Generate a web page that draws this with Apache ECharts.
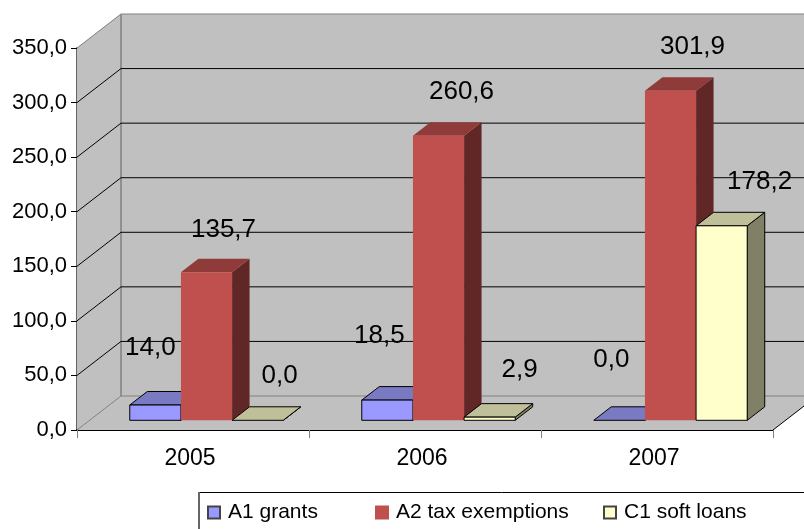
<!DOCTYPE html>
<html>
<head>
<meta charset="utf-8">
<style>html,body{margin:0;padding:0;background:#fff}#chart{width:804px;height:529px}</style>
<script src="https://cdn.jsdelivr.net/npm/echarts@6/dist/echarts.min.js"></script>
</head>
<body>
<div id="chart"></div>
<script>
const years = ['2005', '2006', '2007']
const yTicks = [0, 50, 100, 150, 200, 250, 300, 350]
const grants = [14.0, 18.5, 0.0]
const taxExemptions = [135.7, 260.6, 301.9]
const softLoans = [0.0, 2.9, 178.2]

const FONT = '"Liberation Sans", Arial, sans-serif'
// depth of the walls and of the bars, px
const WALL_DX = 44, WALL_DY = -34
const BAR_DX = 17.5, BAR_DY = -13.5
// bars stand in the middle of the floor
const BASE_DX = 13.5, BASE_DY = -9.7
const BAR_SHARE = 0.2205

// label offset from the top centre of the bar front, per series and year
const labelNudge = [
  [[-5, -57], [-8, -64], [-8, -60]],
  [[17, -42], [23, -44], [22, -44]],
  [[22, -44], [30, -47], [38, -44]]
]

const money = (v) => v.toFixed(1).replace('.', ',')
const poly = (points, fill, stroke) => ({
  type: 'polygon',
  shape: { points },
  style: { fill, stroke: stroke || null, lineWidth: stroke ? 1 : 0 }
})

// walls + floor, drawn once from the y ticks
const renderWalls = (params, api) => {
  const v = api.value(0)
  const band = api.size([1, 0])[0]
  const front = api.coord([0, v])
  const x0 = front[0] - band / 2
  const endX = x0 + band * years.length
  const y = front[1]
  const children = []
  if (params.dataIndex === 0) {
    const top = api.coord([0, yTicks[yTicks.length - 1]])[1]
    children.push(poly([[x0, top], [x0 + WALL_DX, top + WALL_DY], [x0 + WALL_DX, y + WALL_DY], [x0, y]], '#c0c0c0'))
    children.push(poly([[x0 + WALL_DX, top + WALL_DY], [endX + WALL_DX, top + WALL_DY], [endX + WALL_DX, y + WALL_DY], [x0 + WALL_DX, y + WALL_DY]], '#c0c0c0'))
    children.push(poly([[x0, y], [x0 + WALL_DX, y + WALL_DY], [endX + WALL_DX, y + WALL_DY], [endX, y]], '#c0c0c0'))
    children.push({ type: 'line', shape: { x1: x0 + WALL_DX, y1: top + WALL_DY, x2: x0 + WALL_DX, y2: y + WALL_DY }, style: { stroke: '#808080', lineWidth: 1.5 } })
    children.push({ type: 'line', shape: { x1: endX, y1: y, x2: endX + WALL_DX, y2: y + WALL_DY }, style: { stroke: '#000', lineWidth: 1 } })
  }
  const edge = v === 0 || v === yTicks[yTicks.length - 1]
  const color = edge ? '#808080' : '#000'
  children.push({ type: 'line', shape: { x1: x0, y1: y, x2: x0 + WALL_DX, y2: y + WALL_DY }, style: { stroke: color, lineWidth: 1 } })
  children.push({ type: 'line', shape: { x1: x0 + WALL_DX, y1: y + WALL_DY, x2: endX + WALL_DX, y2: y + WALL_DY }, style: { stroke: color, lineWidth: 1 } })
  return { type: 'group', children }
}

// one series of the cluster, front/top/side faces
const makeBars = (seriesIndex, colors, bordered) => (params, api) => {
  const cat = api.value(0)
  const val = api.value(1)
  const centre = api.coord([cat, 0])
  const top = api.coord([cat, val])
  const w = api.size([1, 0])[0] * BAR_SHARE
  const x0 = centre[0] + BASE_DX + (seriesIndex - 1.5) * w
  const x1 = x0 + w
  const yb = centre[1] + BASE_DY
  const yt = top[1] + BASE_DY
  const stroke = bordered ? '#000' : null
  const children = [
    poly([[x1, yt], [x1 + BAR_DX, yt + BAR_DY], [x1 + BAR_DX, yb + BAR_DY], [x1, yb]], colors.side, stroke),
    poly([[x0, yt], [x0 + BAR_DX, yt + BAR_DY], [x1 + BAR_DX, yt + BAR_DY], [x1, yt]], colors.top, stroke)
  ]
  if (val > 0) {
    children.push(poly([[x0, yt], [x1, yt], [x1, yb], [x0, yb]], colors.front, stroke))
  }
  return { type: 'group', children }
}

// labels go in their own series so no bar drawn later covers them
const makeLabels = (seriesIndex) => (params, api) => {
  const cat = api.value(0)
  const val = api.value(1)
  const centre = api.coord([cat, 0])
  const top = api.coord([cat, val])
  const w = api.size([1, 0])[0] * BAR_SHARE
  const nudge = labelNudge[seriesIndex][cat]
  return {
    type: 'text',
    x: centre[0] + BASE_DX + (seriesIndex - 1) * w + nudge[0],
    y: top[1] + BASE_DY + nudge[1],
    style: { text: money(val), font: '26px ' + FONT, fill: '#000', align: 'center', verticalAlign: 'middle' }
  }
}

const barSeries = (name, values, index, colors, bordered) => ({
  name,
  type: 'custom',
  clip: false,
  z: 3,
  silent: true,
  itemStyle: { color: colors.front, borderColor: bordered ? '#444' : colors.front, borderWidth: 1 },
  renderItem: makeBars(index, colors, bordered),
  data: values.map((v, i) => [i, v])
})

const labelSeries = (values, index) => ({
  type: 'custom',
  clip: false,
  z: 5,
  silent: true,
  renderItem: makeLabels(index),
  data: values.map((v, i) => [i, v])
})

const legendItem = (name, left) => ({
  data: [name],
  left,
  top: 502,
  padding: 0,
  icon: 'rect',
  itemWidth: 12,
  itemHeight: 12,
  itemGap: 0,
  textStyle: { fontFamily: FONT, fontSize: 21, color: '#000', padding: [0, 0, 0, 3] }
})

const myChart = echarts.init(document.getElementById('chart'), null, { renderer: 'canvas' })
myChart.setOption({
  animation: false,
  backgroundColor: '#fff',
  grid: { left: 77, right: 31, top: 48, bottom: 99 },
  xAxis: {
    type: 'category',
    data: years,
    boundaryGap: true,
    axisLine: { lineStyle: { color: '#000', width: 2 } },
    axisTick: { show: true, alignWithLabel: false, length: 8, lineStyle: { color: '#808080', width: 1 } },
    axisLabel: { fontFamily: FONT, fontSize: 23, color: '#000', margin: 17, padding: [0, 6, 0, 0] }
  },
  yAxis: {
    type: 'value',
    min: 0,
    max: 350,
    interval: 50,
    axisLine: { show: true, lineStyle: { color: '#666', width: 2 } },
    axisTick: { show: true, length: 6, lineStyle: { color: '#000', width: 1 } },
    splitLine: { show: false },
    axisLabel: { fontFamily: FONT, fontSize: 22, color: '#000', margin: 10, padding: [0, 0, 3, 0], formatter: money }
  },
  legend: [
    legendItem('A1 grants', 207),
    legendItem('A2 tax exemptions', 375),
    legendItem('C1 soft loans', 603)
  ],
  graphic: [
    { type: 'line', shape: { x1: 199, y1: 492.5, x2: 804, y2: 492.5 }, style: { stroke: '#000', lineWidth: 1 }, silent: true },
    { type: 'line', shape: { x1: 199, y1: 492, x2: 199, y2: 529 }, style: { stroke: '#666', lineWidth: 2 }, silent: true }
  ],
  series: [
    {
      type: 'custom',
      clip: false,
      z: 1,
      silent: true,
      renderItem: renderWalls,
      data: yTicks.map((v) => [v]),
      encode: { y: 0 }
    },
    barSeries('A1 grants', grants, 0, { front: '#9999ff', top: '#7a7ac2', side: '#5c5c99' }, true),
    barSeries('A2 tax exemptions', taxExemptions, 1, { front: '#c0504d', top: '#8f3b39', side: '#602726' }, false),
    barSeries('C1 soft loans', softLoans, 2, { front: '#ffffcc', top: '#bfbf99', side: '#808066' }, true),
    labelSeries(grants, 0),
    labelSeries(taxExemptions, 1),
    labelSeries(softLoans, 2)
  ]
})
</script>
</body>
</html>
